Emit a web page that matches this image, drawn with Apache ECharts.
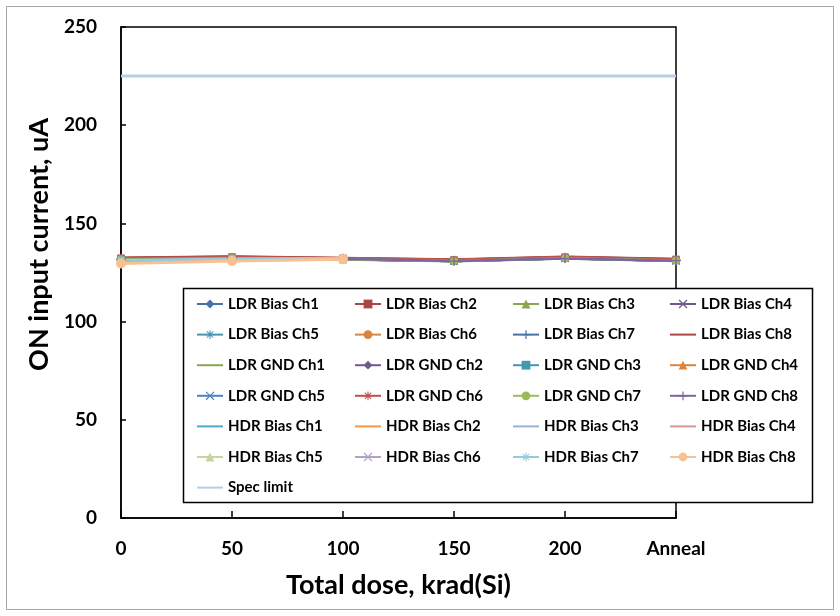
<!DOCTYPE html>
<html>
<head>
<meta charset="utf-8">
<script src="https://cdn.jsdelivr.net/npm/echarts@6/dist/echarts.min.js"></script>
<style>
html,body{margin:0;padding:0;background:#fff;}
#chart{width:840px;height:616px;}
</style>
</head>
<body>
<div id="chart"></div>
<script>
var doses = ['0', '50', '100', '150', '200', 'Anneal'];

// LDR series: 0 .. Anneal
var ldrBiasCh1 = [131.8, 132.3, 131.9, 131.0, 132.4, 131.3];
var ldrBiasCh2 = [132.4, 133.0, 132.3, 131.5, 132.9, 131.8];
var ldrBiasCh3 = [131.9, 132.4, 131.8, 131.0, 132.5, 131.2];
var ldrBiasCh4 = [131.6, 132.0, 131.7, 130.8, 132.2, 131.0];
var ldrBiasCh5 = [131.7, 132.2, 131.8, 130.9, 132.3, 131.1];
var ldrBiasCh6 = [131.9, 132.5, 132.0, 131.1, 132.6, 131.4];
var ldrBiasCh7 = [131.5, 132.1, 131.7, 130.8, 132.2, 131.0];
var ldrBiasCh8 = [132.5, 133.1, 132.4, 131.6, 133.0, 131.9];
var ldrGndCh1 = [131.4, 131.9, 131.6, 130.7, 132.1, 130.9];
var ldrGndCh2 = [131.6, 132.0, 131.8, 130.8, 132.2, 131.0];
var ldrGndCh3 = [131.8, 132.3, 131.9, 131.0, 132.4, 131.2];
var ldrGndCh4 = [132.0, 132.5, 132.1, 131.2, 132.6, 131.4];
var ldrGndCh5 = [131.5, 132.0, 131.7, 130.8, 132.2, 131.0];
var ldrGndCh6 = [132.2, 132.7, 132.2, 131.3, 132.8, 131.6];
var ldrGndCh7 = [131.7, 132.2, 131.8, 130.9, 132.3, 131.1];
var ldrGndCh8 = [131.3, 131.7, 132.0, 130.8, 132.1, 131.0];
// HDR series: 0, 50, 100 only
var hdrBiasCh1 = [130.8, 131.6, 132.0];
var hdrBiasCh2 = [130.2, 131.2, 131.8];
var hdrBiasCh3 = [130.9, 131.7, 132.1];
var hdrBiasCh4 = [130.5, 131.4, 131.9];
var hdrBiasCh5 = [131.0, 131.8, 132.2];
var hdrBiasCh6 = [130.6, 131.5, 132.0];
var hdrBiasCh7 = [131.2, 131.9, 132.3];
var hdrBiasCh8 = [129.6, 130.8, 131.7];
var specLimit = [225, 225, 225, 225, 225, 225];

var FONT = 'Lato';
// marker shapes
var xMark = 'path://M1,0L5,4L9,0L10,1L6,5L10,9L9,10L5,6L1,10L0,9L4,5L0,1Z';
var plusMark = 'path://M4.3,0H5.7V4.3H10V5.7H5.7V10H4.3V5.7H0V4.3H4.3Z';
var starMark = 'path://M4.4,0H5.6V3.6L8.2,1L9,1.8L6.4,4.4H10V5.6H6.4L9,8.2L8.2,9L5.6,6.4V10H4.4V6.4L1.8,9L1,8.2L3.6,5.6H0V4.4H3.6L1,1.8L1.8,1L4.4,3.6Z';

function mk(name, data, color, symbol, size, width) {
    return {
        name: name,
        type: 'line',
        data: data,
        symbol: symbol,
        symbolSize: size || 7,
        showSymbol: symbol !== 'none',
        lineStyle: {color: color, width: width || 2.5},
        itemStyle: {color: color},
        emphasis: {disabled: true},
        animation: false
    };
}

var series = [
    mk('LDR Bias Ch1', ldrBiasCh1, '#4572A7', 'diamond', 8),
    mk('LDR Bias Ch2', ldrBiasCh2, '#AA4643', 'rect', 7),
    mk('LDR Bias Ch3', ldrBiasCh3, '#89A54E', 'triangle', 8),
    mk('LDR Bias Ch4', ldrBiasCh4, '#71588F', xMark, 8),
    mk('LDR Bias Ch5', ldrBiasCh5, '#4198AF', starMark, 9),
    mk('LDR Bias Ch6', ldrBiasCh6, '#DB843D', 'circle', 8),
    mk('LDR Bias Ch7', ldrBiasCh7, '#4572A7', plusMark, 9),
    mk('LDR Bias Ch8', ldrBiasCh8, '#AA4643', 'none'),
    mk('LDR GND Ch1', ldrGndCh1, '#89A54E', 'none'),
    mk('LDR GND Ch2', ldrGndCh2, '#71588F', 'diamond', 8),
    mk('LDR GND Ch3', ldrGndCh3, '#4198AF', 'rect', 7),
    mk('LDR GND Ch4', ldrGndCh4, '#DB843D', 'triangle', 8),
    mk('LDR GND Ch5', ldrGndCh5, '#4F81BD', xMark, 8),
    mk('LDR GND Ch6', ldrGndCh6, '#C0504D', starMark, 9),
    mk('LDR GND Ch7', ldrGndCh7, '#9BBB59', 'circle', 8),
    mk('LDR GND Ch8', ldrGndCh8, '#8064A2', plusMark, 9),
    mk('HDR Bias Ch1', hdrBiasCh1, '#4BACC6', 'none'),
    mk('HDR Bias Ch2', hdrBiasCh2, '#F79646', 'none'),
    mk('HDR Bias Ch3', hdrBiasCh3, '#95B3D7', 'none'),
    mk('HDR Bias Ch4', hdrBiasCh4, '#D99694', 'none'),
    mk('HDR Bias Ch5', hdrBiasCh5, '#C3D69B', 'triangle', 8),
    mk('HDR Bias Ch6', hdrBiasCh6, '#B3A2C7', xMark, 8),
    mk('HDR Bias Ch7', hdrBiasCh7, '#93CDDD', starMark, 9),
    mk('HDR Bias Ch8', hdrBiasCh8, '#FAC090', 'circle', 10, 3),
    mk('Spec limit', specLimit, '#B9CDE5', 'none', 0, 3)
];

// legend is laid out row by row in 4 columns
var colX = [196, 354, 512, 669];
var legends = colX.map(function (x, c) {
    var items = [];
    series.forEach(function (s, i) {
        if (i % 4 !== c) return;
        if (s.symbol === 'none') {
            // plain line, hide the marker
            items.push({name: s.name, itemStyle: {color: 'rgba(0,0,0,0)', borderWidth: 0}});
        } else {
            items.push({name: s.name});
        }
    });
    return {
        orient: 'vertical',
        left: x,
        top: 295,
        padding: 0,
        itemGap: 12.6,
        itemWidth: 26,
        itemHeight: 11,
        z: 10,
        selectedMode: false,
        data: items,
        textStyle: {fontFamily: FONT, fontWeight: 'bold', fontSize: 15, color: '#000', lineHeight: 18}
    };
});

var chart = echarts.init(document.getElementById('chart'));
chart.setOption({
    backgroundColor: '#fff',
    animation: false,
    grid: {left: 121, right: 164, top: 27, bottom: 98, show: true, borderColor: '#000', borderWidth: 1.5},
    legend: legends,
    graphic: [
        {type: 'rect', z: -1, shape: {x: 6.5, y: 6.5, width: 827, height: 603}, style: {fill: 'none', stroke: '#a6a6a6', lineWidth: 1}},
        {type: 'rect', z: 6, shape: {x: 183.5, y: 288.5, width: 629, height: 214}, style: {fill: '#fff', stroke: '#000', lineWidth: 1.5}}
    ],
    xAxis: {
        type: 'category',
        data: doses,
        boundaryGap: false,
        name: 'Total dose, krad(Si)',
        nameLocation: 'middle',
        nameGap: 54,
        nameTextStyle: {fontFamily: FONT, fontWeight: 'bold', fontSize: 27, color: '#000'},
        axisLine: {lineStyle: {color: '#000', width: 1.5}},
        axisTick: {inside: true, length: 7, lineStyle: {color: '#000', width: 1.5}},
        axisLabel: {fontFamily: FONT, fontWeight: 'bold', fontSize: 19, color: '#000', margin: 21},
        splitLine: {show: false}
    },
    yAxis: {
        type: 'value',
        min: 0,
        max: 250,
        interval: 50,
        name: 'ON input current, uA',
        nameLocation: 'middle',
        nameGap: 66,
        nameTextStyle: {fontFamily: FONT, fontWeight: 'bold', fontSize: 27, color: '#000', padding: [0, 0, 0, 56]},
        axisLine: {show: true, lineStyle: {color: '#000', width: 1.5}},
        axisTick: {show: true, inside: true, length: 5, lineStyle: {color: '#000', width: 1.5}},
        axisLabel: {fontFamily: FONT, fontWeight: 'bold', fontSize: 19, color: '#000', margin: 24},
        splitLine: {show: false}
    },
    series: series
});
</script>
</body>
</html>
